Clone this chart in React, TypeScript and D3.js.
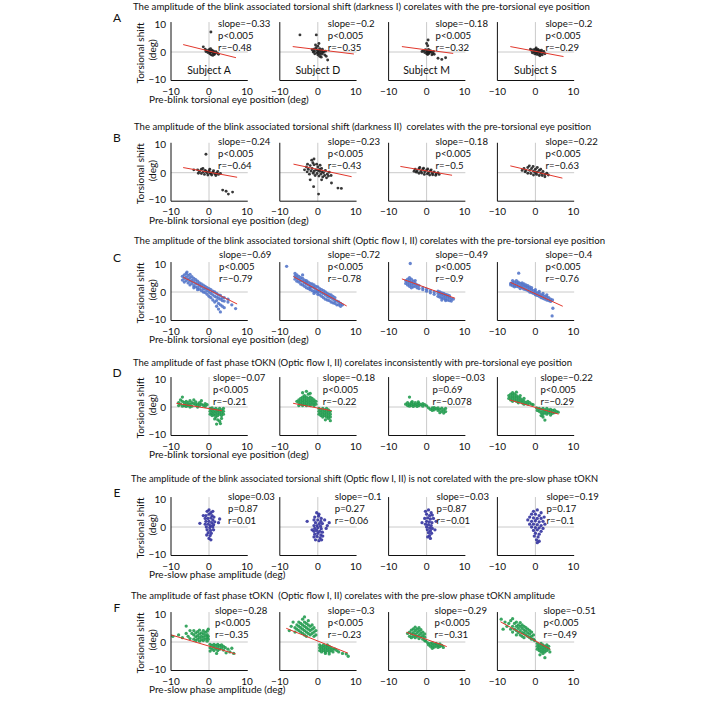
import React from 'react';
import * as d3 from 'd3';

const W = 723, H = 702;
const FONT = "Lato, 'Noto Sans', sans-serif";

const rowLetters = ['A', 'B', 'C', 'D', 'E', 'F'];
const rowTitles = [
  'The amplitude of the blink associated torsional shift (darkness I) corelates with the pre-torsional eye position',
  'The amplitude of the blink associated torsional shift (darkness II)  corelates with the pre-torsional eye position',
  'The amplitude of the blink associated torsional shift (Optic flow I, II) corelates with the pre-torsional eye position',
  'The amplitude of fast phase tOKN (Optic flow I, II) corelates inconsistently with pre-torsional eye position',
  'The amplitude of the blink associated torsional shift (Optic flow I, II) is not corelated with the pre-slow phase tOKN',
  'The amplitude of fast phase tOKN  (Optic flow I, II) corelates with the pre-slow phase tOKN amplitude',
];
const titleX = [133, 134, 134, 133, 131, 131];
const titleLen = [457, 457, 471, 439, 467, 424];
const titleY = [6, 126, 240, 362, 478, 595];
const rowZero = [52, 172.7, 292, 407, 527, 642];
const xAxisLabels = [
  'Pre-blink torsional eye position (deg)',
  'Pre-blink torsional eye position (deg)',
  'Pre-blink torsional eye position (deg)',
  'Pre-blink torsional eye position (deg)',
  'Pre-slow phase amplitude (deg)',
  'Pre-slow phase amplitude (deg)',
];
const subjectNames = ['Subject A', 'Subject D', 'Subject M', 'Subject S'];
const xTicks = [-10, 0, 10];
const yTicks = [-10, 0, 10];

const slopeVals = [
  ['−0.33', '−0.2', '−0.18', '−0.2'],
  ['−0.24', '−0.23', '−0.18', '−0.22'],
  ['−0.69', '−0.72', '−0.49', '−0.4'],
  ['−0.07', '−0.18', '−0.03', '−0.22'],
  ['0.03', '−0.1', '−0.03', '−0.19'],
  ['−0.28', '−0.3', '−0.29', '−0.51'],
];
const pVals = [
  ['p<0.005', 'p<0.005', 'p<0.005', 'p<0.005'],
  ['p<0.005', 'p<0.005', 'p<0.005', 'p<0.005'],
  ['p<0.005', 'p<0.005', 'p<0.005', 'p<0.005'],
  ['p<0.005', 'p<0.005', 'p=0.69', 'p<0.005'],
  ['p=0.87', 'p=0.27', 'p=0.87', 'p=0.17'],
  ['p<0.005', 'p<0.005', 'p<0.005', 'p<0.005'],
];
const rVals = [
  ['−0.48', '−0.35', '−0.32', '−0.29'],
  ['−0.64', '−0.43', '−0.5', '−0.63'],
  ['−0.79', '−0.78', '−0.9', '−0.76'],
  ['−0.21', '−0.22', '−0.078', '−0.29'],
  ['0.01', '−0.06', '−0.01', '−0.1'],
  ['−0.35', '−0.23', '−0.31', '−0.49'],
];
const rowColors = ['#1c1c1c', '#1c1c1c', '#5274c8', '#1f9a4c', '#2e2e9c', '#1f9a4c'];
const statDx = [
  [9, 10, 9, 10],
  [9, 10, 9, 10],
  [10, 10, 9, 10],
  [4, 5, 6, 5],
  [19, 17, 10, 11],
  [6, 10, 8, 8],
];
const statDy = [-29, -31, -37.5, -30, -31, -32];

// scatter points, flat [x, y, x, y, ...] in data units (deg)
const ptsA1 = [-0.5,0.5, 0,0.8, 0.5,0.2, 1,-0.3, 1.5,-0.5, 0.2,-0.6, 0.8,0.6, 1.2,0.3, -0.3,-0.2, 0.6,-1, 1.8,0.1, 2.2,-0.4, -1,1, -1.5,1.8, 0.4,1.2, 1,-1.2, 0.3,-0.1, 0.9,0, 1.4,-0.9, 0.5,7, -0.8,0.2, 2.5,-0.8, 0.1,0.3];
const ptsA2 = [-1,1, -0.5,1.5, 0,2, 0.5,1.2, 1,0.5, 1.5,0, -1.2,0, -0.8,-0.6, 0,-1, 0.5,-1.5, 1,-0.8, 1.8,-1, 0.2,0.4, 0.7,-0.2, -0.3,0.8, -0.2,-0.3, 1.2,1, 2,0.3, 0.4,-0.6, -1.5,0.8, 0.9,-1.8, -0.6,2.5, 0.3,3, -4.7,6, -0.4,6, 2.6,-2.8, 2.2,-1.5, 1.3,-0.2, 0,0, 0.6,0.6, -0.9,0.3];
const ptsA3 = [-0.8,0.5, -0.3,0.8, 0.2,0.3, 0.7,-0.2, 1.2,0, 1.6,-0.5, 0,-0.6, 0.5,0.9, -0.5,-0.2, 1,0.5, 0.3,-0.9, 1.4,-1, 0.8,0.2, 0.1,0, -1.2,0.2, 0.4,4.2, 0,3, 0.3,2.2, 3,-2.2, 4,-2.6, 5,-2, 2,-0.8, 0.6,-0.5, 1.8,0.2];
const ptsA4 = [-1,0.5, -0.5,0.8, 0,1, 0.5,0.6, 1,0.3, 1.5,0, 2,-0.3, 2.5,-0.6, -0.8,-0.3, -0.2,-0.6, 0.3,-0.8, 0.8,-1, 1.3,-0.7, 1.8,-1, 0,0.2, 0.6,0, 1.2,0.5, -0.4,0.1, 0.4,-0.2, 1,-0.3, 1.6,0.6, 2.2,0.2, -1.3,1, 0.2,1.4, 1.2,-1.3, 0.7,0.9];

const ptsB1 = [-3,1, -2.5,0.5, -2,1.2, -1.5,0.3, -1,0.8, -0.5,0, 0,0.5, 0.5,-0.2, 1,0.2, 1.5,-0.4, 2,-0.2, 2.5,-0.6, 3,-0.3, -2,-0.3, -1.2,-0.6, -0.3,-0.8, 0.7,-0.8, 1.8,-1, -1.6,1.5, 0.2,1.2, -2.8,-0.2, 1.2,0.7, 2.3,0.4, -0.8,0.4, -0.8,6.5, 3.6,-6.1, 5.1,-7.5, 6.2,-6.8, 4.5,-6.5, -4,1, 0.3,-0.2];
const ptsB2 = [-3,2, -2.5,1.2, -2,2.5, -1.5,1.5, -1,2.8, -0.5,1, 0,2, 0.5,0.5, 1,1.5, 1.5,0, 2,0.8, 2.5,-0.5, 3,0.2, -2.8,0.3, -2.2,-0.5, -1.8,0.6, -1.2,-0.2, -0.7,-1, -0.2,-0.3, 0.3,-1.2, 0.8,-0.5, 1.3,-1.5, 1.8,-1, 2.3,-1.8, -1.3,3.5, -0.3,3, 0.6,2.6, -3.5,1, -2.7,3, 1.1,0.3, 0,0.8, -1,0.5, 0.5,1.2, 2.8,-1.2, 3.5,-1, -1,4.8, -1.6,4.4, -1.1,-4.9, 0.2,-7.5, 3.6,-3.6, 5.3,-5.4, 6.2,-5.5, -2,-2.5, 1,-2.5];
const ptsB3 = [-3,1.2, -2.5,0.6, -2,1.4, -1.5,0.5, -1,1.2, -0.5,0.3, 0,0.9, 0.5,0, 1,0.6, 1.5,-0.2, 2,0.3, 2.5,-0.4, 3,0, -2.7,0.2, -2,-0.2, -1.3,-0.1, -0.6,-0.6, 0.2,-0.4, 0.8,-0.8, 1.6,-0.7, 2.4,-0.9, -1.8,1.8, -0.8,1.6, 0.3,1.3, 1.2,1, 3.3,-0.6, -3.3,0.5];
const ptsB4 = [-3,1.5, -2.5,0.8, -2,1.8, -1.5,0.8, -1,1.5, -0.5,0.5, 0,1.2, 0.5,0.2, 1,0.8, 1.5,-0.2, 2,0.4, 2.5,-0.6, 3,-0.2, -2.7,0.3, -2,-0.2, -1.2,-0.3, -0.5,-0.8, 0.3,-0.6, 1,-1, 1.8,-1, 2.5,-1.4, -1.6,2.4, -0.6,2.2, 0.5,1.8, 1.4,1.2, 3.4,-0.8, -3.5,0.8, 0,0];

const ptsC1 = [-7,5.5, -7,4.2, -6.5,6, -6.5,4.8, -6.5,3.5, -6,5.2, -6,4, -6,6.5, -5.5,4.5, -5.5,3.2, -5.5,5.8, -5,5, -5,3.8, -5,2.5, -5,6.2, -4.5,4.2, -4.5,3, -4.5,5.4, -4,3.6, -4,2.2, -4,4.8, -4,1.5, -3.5,3, -3.5,4.3, -3.5,1.8, -3,2.8, -3,1.5, -3,3.8, -3,0.8, -2.5,2.2, -2.5,3.2, -2.5,1, -2,1.8, -2,0.5, -2,2.8, -1.5,1.2, -1.5,2.4, -1.5,0, -1,1, -1,-0.2, -1,2, -0.5,0.5, -0.5,1.5, -0.5,-0.8, 0,0, 0,1.2, 0,-1.5, 0.5,-0.5, 0.5,0.8, 0.5,-2, 1,-1, 1,-2.8, 1,0.3, 1.5,-1.5, 1.5,-3.5, 1.5,0, 2,-1.8, 2,-3, 2,-5, 2,-0.5, 2.5,-2.2, 2.5,-4, 2.5,-6, 2.5,-1, 3,-2.5, 3,-4.5, 3,-1.2, 3,-7, 3.5,-3, 3.5,-5, 3.5,-2, 4,-3.2, 4,-5.5, 4,-2, 5,-3.5, 5,-2.5, 6,-4.5, 7,-5.8, -5.8,7];
const ptsC2 = [-6,5.5, -6,4.5, -6,6.5, -5.5,5, -5.5,3.8, -5.5,6, -5,4.5, -5,3.5, -5,5.5, -4.5,4, -4.5,5, -4.5,2.8, -4,3.8, -4,2.5, -4,4.8, -4,6, -3.5,3.2, -3.5,2, -3.5,4.2, -3,2.8, -3,1.5, -3,4, -3,3.5, -2.5,2.5, -2.5,1.2, -2.5,3.5, -2,2, -2,0.8, -2,3, -2,1.5, -1.5,1.8, -1.5,0.5, -1.5,2.8, -1,1.5, -1,0.2, -1,2.5, -1,-0.5, -0.5,1, -0.5,0, -0.5,2, 0,0.5, 0,-0.8, 0,1.8, 0,0, 0.5,0.2, 0.5,-1, 0.5,1.2, 1,-0.3, 1,-1.5, 1,0.8, 1.5,-0.6, 1.5,-2, 1.5,0.5, 2,-1, 2,-2.5, 2,0, 2.5,-1.5, 2.5,-2.8, 2.5,-0.5, 3,-1.8, 3,-3, 3,-0.8, 3.5,-2, 3.5,-3.5, 3.5,-1, 4,-2.5, 4,-3.8, 4,-1.5, 4.5,-3, 4.5,-4, 4.5,-2, 5,-3.2, 5,-4.5, 5.5,-3.5, 5.5,-4.5, 6,-4, 6,-5, 6.5,-4.5, -8.2,9];
const ptsC3 = [-5.5,4, -5.5,3, -5,4.5, -5,3.5, -5,2.5, -4.5,4, -4.5,3, -4.5,2, -4.5,5, -4,3.5, -4,2.5, -4,4.5, -4,1.5, -3.5,3.8, -3.5,2.8, -3.5,1.8, -3,3, -3,2, -3,4, -2.5,2.5, -2.5,1.5, -2,2.2, -2,1.2, -1,1.5, -1,0.8, 0,1, 0,0.3, 1,0.5, 1,-0.3, 2,0, 2,-0.8, 3,-0.5, 3,-1.5, 3,0.3, 3.5,-0.8, 3.5,-1.8, 3.5,0, 4,-1, 4,-2, 4,-0.3, 4,-2.8, 4.5,-1.2, 4.5,-2.2, 4.5,-0.5, 5,-1.5, 5,-2.5, 5,-0.8, 5,-3, 5.5,-1.8, 5.5,-2.8, 5.5,-1, 6,-2, 6,-3, 6,-1.3, 6.5,-2.3, 6.5,-3.2, 7,-2.5, -4.3,10];
const ptsC4 = [-6.5,3, -6.5,2.5, -6,3.2, -6,2.2, -6,4, -5.5,3.5, -5.5,2.5, -5.5,1.8, -5,3, -5,2, -5,4, -4.5,2.8, -4.5,1.8, -4.5,3.5, -4,3, -4,2, -4,1.2, -3.5,2.5, -3.5,1.5, -3.5,3.2, -3,2, -3,1, -3,2.8, -2.5,1.8, -2.5,0.8, -2.5,2.5, -2,1.5, -2,0.5, -2,2.2, -1.5,1, -1.5,0, -1.5,1.8, -1,0.8, -1,-0.2, -1,1.5, -0.5,0.5, -0.5,-0.5, 0,0, 0,-1, 0,0.8, 0.5,-0.3, 0.5,-1.2, 1,-0.5, 1,-1.5, 1,0.2, 1.5,-1, 1.5,-2, 2,-1.2, 2,-2.2, 2,-0.5, 2.5,-1.5, 2.5,-2.5, 3,-1.8, 3,-2.8, 3,-1, 3.5,-2, 3.5,-3, 4,-2.5, 4,-3.3, 4.5,-2.8, 4.6,-5.7, 4.4,-8.4, -4.4,6.6];

const ptsD1 = [-8,1.5, -8,0.5, -7.5,2.5, -7.5,1, -7,2, -7,0.3, -7,3.5, -6.5,1.5, -6.5,0.5, -6,2, -6,1, -6,0.2, -5.5,1.5, -5.5,0.5, -5,2.2, -5,1, -5,0, -4.5,1.5, -4.5,0.3, -4,1.2, -4,2.5, -3.5,0.8, -3.5,1.8, -3,1, -3,0, -2.5,1.5, -2.5,0.5, -2,1, -2,2.2, -1.5,0.6, -1,1.2, -1,0.2, -0.5,0.8, 0.3,-0.5, 0.3,-1.5, 0.3,-2.5, 0.8,-0.3, 0.8,-1.2, 0.8,-2.2, 0.8,-3, 1.3,-0.8, 1.3,-1.8, 1.3,-2.8, 1.8,-0.5, 1.8,-1.5, 1.8,-2.5, 1.8,-3.5, 2.3,-1, 2.3,-2, 2.3,-3, 2.3,-4.5, 2.8,-0.5, 2.8,-1.5, 2.8,-2.5, 2.8,-5, 3.3,-1, 3.3,-2, 3.3,-3, 3.3,-4, 3.8,-0.5, 3.8,-1.5, 3.8,-2.5, 2,-6, 3,-5.8, 1.5,-4.2];
const ptsD2 = [-5,0.5, -5,1.5, -5,2.5, -4.5,1, -4.5,2, -4.5,3, -4,0.5, -4,1.5, -4,2.5, -4,3.5, -3.5,1, -3.5,2, -3.5,3, -3.5,4, -3,0.5, -3,1.5, -3,2.5, -3,3.5, -2.5,1, -2.5,2, -2.5,3, -2.5,4.5, -2,0.5, -2,1.5, -2,2.5, -2,3.5, -1.5,1, -1.5,2, -1.5,3, -1,0.5, -1,1.5, -1,2.5, -0.5,1, -0.5,2, -4,5, -3,5.5, -2,4.8, -5.5,2, 0.3,-0.5, 0.3,-1.5, 0.3,-2.5, 0.8,-1, 0.8,-2, 0.8,-3, 1.3,-0.5, 1.3,-1.5, 1.3,-2.5, 1.3,-3.5, 1.8,-1, 1.8,-2, 1.8,-3, 2.3,-0.5, 2.3,-1.5, 2.3,-2.5, 2.3,-3.5, 2.8,-1, 2.8,-2, 2.8,-3, 2.8,-4, 3.3,-1.5, 3.3,-2.5, 3.3,-3.5, 3.3,-4.8, 2,-4.5];
const ptsD3 = [-5.5,1, -5,0.5, -5,1.5, -4.5,1, -4.5,0.3, -4,1.5, -4,0.6, -3.5,1, -3.5,0.2, -3,1.5, -3,0.6, -2.5,1, -2.5,0.2, -2,1.3, -2,0.5, -1.5,0.8, -1,1.2, -1,0.3, -0.5,0.8, 0,0.4, -4.5,3.5, -3.8,1.9, -2.2,1.8, 0.5,-0.3, 1,-0.8, 1.5,-0.3, 2,-1, 2,-0.2, 2.5,-0.6, 3,-1.2, 3,-0.3, 3.5,-0.8, 4,-1.5, 4,-0.4, 4.5,-1, 5,-0.5, 5,-1.6, 3.5,-2, 4.5,-2.1, 1.5,-1.2];
const ptsD4 = [-7,3, -7,4, -6.5,2.5, -6.5,3.5, -6.5,4.5, -6,2, -6,3, -6,4, -6,5, -5.5,2.5, -5.5,3.5, -5.5,4.5, -5,2, -5,3, -5,4, -5,5.2, -4.5,1.5, -4.5,2.5, -4.5,3.5, -4,2, -4,3, -4,4, -3.5,1.5, -3.5,2.5, -3,1, -3,2, -3,3, -2.5,1.5, -2,1, -2,2, -1.5,1.5, -1,1, -0.6,0.8, 0.3,-0.3, 0.5,-1.2, 1,-0.5, 1,-1.5, 1.5,-0.8, 1.5,-2, 2,-0.5, 2,-1.5, 2,-2.5, 2.5,-1, 2.5,-2, 3,-0.5, 3,-1.5, 3,-2.5, 3.5,-1, 3.5,-2, 4,-0.8, 4,-1.8, 4,-2.8, 4.5,-1.2, 4.5,-2.2, 5,-1, 5,-2, 5.5,-1.5, 6,-1.8, 2,-3.5, 2.5,-4.6, 1.5,-3];

const ptsE1 = [-0.5,5.5, 0,6, 0.5,5, 1,5.5, -0.8,4, 0,4.5, 0.8,4, 1.3,3.5, -1,3, -0.3,3, 0.5,3.2, 1,2.5, -0.8,2, 0,2, 0.7,1.5, 1.5,1.8, -1,1, -0.2,1, 0.4,0.5, 1.2,0.8, -0.7,0, 0.2,-0.2, 1,0, -0.5,-1, 0.4,-1.2, 1.2,-1, -0.2,-2, 0.6,-2.2, -0.6,-2.8, 0.3,-3, 0,-4, 0.5,-4.5, -2.4,1.3, 2.5,1.5, 2.8,2.8, -1.5,4];
const ptsE2 = [-0.3,5, 0.3,4.5, -0.8,3.5, 0.2,3.8, 0.9,3, -1,2.5, 0,2.5, 0.8,2, -0.6,1.5, 0.4,1.2, 1.2,1.2, -1,0.5, -0.2,0.5, 0.7,0.3, -0.8,-0.5, 0,-0.3, 0.9,-0.6, -1,-1.5, -0.3,-1.2, 0.5,-1.5, 1.2,-1.8, -0.8,-2.5, 0,-2.2, 0.8,-2.8, -1,-3.5, -0.2,-3.3, 0.6,-3.8, 1.3,-3.2, -0.6,-4.5, 0.3,-4.8, 1,-4.5, -2.8,2, 3,1.5, 2.2,-0.5, 1.8,2.5, 2.5,0.5, -1.5,-1];
const ptsE3 = [-0.3,5.5, 0.5,6, 1.2,5, 0,4.5, 0.8,4, 1.5,4.2, -0.5,3, 0.3,3.2, 1,2.8, 1.8,3, 0,2, 0.7,1.8, 1.4,1.5, -0.3,1, 0.5,0.8, 1.2,0.5, 0,0, 0.8,-0.3, 1.5,-0.5, 0.2,-1, 1,-1.3, 0.5,-2, 1.3,-2.2, 0.8,-3, 0.3,-3.5, 1,-4, 2.5,2, -1.2,1.5, 2.2,-1];
const ptsE4 = [-0.5,5.5, 0.5,6, 1.5,5, -1,4.5, 0,4.5, 1,4, -1.5,3.5, -0.5,3.2, 0.5,3, 1.5,3, -1,2, 0,2.2, 1,1.8, 2,2, -1.5,1, -0.5,1, 0.5,0.8, 1.5,0.5, -1,0, 0,-0.2, 1,-0.3, 2,-0.5, -0.5,-1.2, 0.5,-1, 1.5,-1.5, 0,-2.2, 1,-2.5, -0.3,-3.2, 0.7,-3.5, 0.3,-4.5, 1,-5, 0.5,-5.5, -2,2.5, 2.5,1, 2.3,3.5];

const ptsF1 = [-4,1, -4,2.5, -4,4, -3.5,0.5, -3.5,1.8, -3.5,3.2, -3,1, -3,2.2, -3,3.6, -2.5,0.3, -2.5,1.5, -2.5,2.8, -2.5,4.2, -2,0.8, -2,2, -2,3.2, -1.5,0.5, -1.5,1.6, -1.5,2.8, -1.5,4, -1,1, -1,2.2, -1,3.4, -0.5,0.3, -0.5,1.5, -0.5,2.6, -0.5,3.8, -0.2,1, -0.2,2, -0.2,4.5, -9.5,2, -8,2.5, -7,1.5, -6,5.6, -6,3, -5.5,2, -5,4, -5,1.2, -4.5,3, 0.3,-0.8, 0.3,-2, 0.3,-3.2, 0.8,-1.2, 0.8,-2.5, 1.3,-0.8, 1.3,-1.8, 1.3,-3, 1.8,-1.2, 1.8,-2.4, 2.3,-0.8, 2.3,-1.8, 2.3,-3, 2.8,-1.3, 2.8,-2.5, 3.3,-1, 3.3,-2, 3.8,-1.5, 3.8,-2.8, 4.3,-2, 5,-2.5, 5.5,-3.5, 6.5,-4, 4.5,-3.8, 2,-4, 6,-2.2];
const ptsF2 = [-6,5, -6,3.5, -5.5,6, -5.5,4.5, -5,7, -5,5.5, -5,4, -4.5,6.5, -4.5,5, -4.5,3.5, -4,8, -4,6, -4,4.5, -4,3, -3.5,7, -3.5,5.5, -3.5,4, -3.5,2.5, -3,6.5, -3,5, -3,3.5, -3,2, -2.5,7.5, -2.5,6, -2.5,4.5, -2.5,3, -2,5.5, -2,4, -2,2.5, -1.5,6, -1.5,4.5, -1.5,3, -1,5, -1,3.5, -1,2, -0.5,4, -0.5,2.5, -3.5,8.8, -7,5.5, -7.5,4, -6.5,7, 0.5,-1, 0.5,-2, 0.5,-3, 1,-1.5, 1,-2.5, 1,-3.5, 1.5,-1, 1.5,-2, 1.5,-3, 2,-1.5, 2,-2.5, 2,-3.5, 2.5,-1, 2.5,-2, 2.5,-3, 3,-1.5, 3,-2.5, 3,-3.5, 3.5,-2, 3.5,-3, 4,-2.5, 4,-3.5, 4.5,-2.5, 5,-3, 5.5,-3.5, 6.5,-4, 7.5,-4.2, 8,-5, 3,-4.2, 2,-4];
const ptsF3 = [-5,3, -4.5,2, -4.5,3.5, -4,1.5, -4,2.8, -4,4.2, -3.5,2, -3.5,3.3, -3.5,4.6, -3,1.5, -3,2.7, -3,4, -3,5.2, -2.5,2, -2.5,3.3, -2.5,4.5, -2,1.2, -2,2.5, -2,3.8, -2,5, -1.5,1.8, -1.5,3, -1.5,4.3, -1,1, -1,2.2, -1,3.5, -0.5,0.5, -0.5,1.7, -0.5,2.8, -0.2,0.3, 0.3,-0.3, 0.5,-1, 1,-0.5, 1,-1.5, 1.5,-0.3, 1.5,-1.2, 2,-0.8, 2,-1.8, 2.5,-0.5, 2.5,-1.4, 3,-1, 3,-1.9, 3.5,-0.7, 3.5,-1.6, 4,-1.2, 4.4,-1.9, 1.5,-2.2];
const ptsF4 = [-9,8, -8,7, -7.5,5.5, -7,6.5, -6.5,4.5, -6.5,7.5, -6,5.5, -6,3.5, -5.5,6.5, -5.5,4.5, -5,7, -5,5.5, -5,4, -5,2.5, -4.5,6, -4.5,4.8, -4.5,3.3, -4,6.8, -4,5.5, -4,4, -4,2.5, -3.5,6, -3.5,4.8, -3.5,3.3, -3.5,2, -3,5.5, -3,4.2, -3,3, -3,1.5, -2.5,5, -2.5,3.8, -2.5,2.5, -2,4.5, -2,3.2, -2,2, -1.5,4, -1.5,2.8, -1.5,1.5, -1,3.5, -1,2, -1,1, -0.5,2.5, -0.5,1, -0.2,0.5, -8.5,4.5, -6,8.2, 0.5,-0.5, 0.5,-1.5, 0.5,-2.5, 1,-1, 1,-2, 1,-3, 1.5,-0.5, 1.5,-1.5, 1.5,-2.5, 1.5,-3.5, 2,-1, 2,-2, 2,-3, 2,-4, 2.5,-1.5, 2.5,-2.5, 2.5,-3.5, 3,-1, 3,-2, 3,-3, 3.5,-1.5, 3.5,-2.5, 3.8,-3.5, 2.5,-5.5, 1.2,-4.5];

const panelPoints = [
  [ptsA1, ptsA2, ptsA3, ptsA4],
  [ptsB1, ptsB2, ptsB3, ptsB4],
  [ptsC1, ptsC2, ptsC3, ptsC4],
  [ptsD1, ptsD2, ptsD3, ptsD4],
  [ptsE1, ptsE2, ptsE3, ptsE4],
  [ptsF1, ptsF2, ptsF3, ptsF4],
];

// regression line end points [x1, y1, x2, y2] (deg); null = not visible
const fitLines = [
  [[-6.8, 2.6, 7.1, -2.0], [-6.6, 1.9, 9.5, -0.7], [-6.5, 1.9, 7.0, -0.5], [-6.6, 1.9, 7.4, -1.6]],
  [[-6.8, 1.8, 7.4, -1.6], [-6.4, 3.0, 8.9, -1.4], [-6.9, 2.2, 6.7, -0.9], [-6.6, 2.4, 7.1, -1.9]],
  [[-6.8, 5.2, 7.4, -4.2], [-6.4, 5.4, 7.6, -4.9], [-6.5, 4.6, 7.5, -2.2], [-6.6, 3.4, 7.2, -5.0]],
  [[-8.6, 1.3, 3.4, -1.3], [-6.5, 1.3, 3.6, -1.3], null, [-6.8, 2.5, 6.1, -2.5]],
  [null, null, null, null],
  [[-10, 2.5, 7, -4.2], [-8.3, 4.8, 7.9, -3.9], [-5.3, 3.4, 5.3, -1.6], [-9.2, 7.1, 3.9, -2.5]],
];

const COL0 = 171;
const COL_STEP = 108.8;
const PANEL_W = 76;
const HALF_H = 28.5;

function pairs(flat: number[]): [number, number][] {
  const out: [number, number][] = [];
  for (let i = 0; i + 1 < flat.length; i += 2) out.push([flat[i], flat[i + 1]]);
  return out;
}

function Panel({ row, col }: { row: number; col: number }) {
  const left = COL0 + COL_STEP * col;
  const y0 = rowZero[row];
  const x = d3.scaleLinear().domain([-10, 10]).range([left, left + PANEL_W]);
  const y = d3.scaleLinear().domain([-10, 10]).range([y0 + HALF_H, y0 - HALF_H]);
  const pts = pairs(panelPoints[row][col]);
  const fit = fitLines[row][col];
  const color = rowColors[row];
  const tx = x(0) + statDx[row][col];
  const ty = y0 + statDy[row];
  const fs = 9.6;
  const r = row < 2 ? 1.45 : 1.65;
  return (
    <g>
      <line x1={x(-10)} x2={x(10.2)} y1={y(0)} y2={y(0)} stroke="#cacaca" strokeWidth={1} />
      <line x1={x(0)} x2={x(0)} y1={y(-10)} y2={y(10.5)} stroke="#cacaca" strokeWidth={1} />
      {pts.map((p, i) => (
        <circle key={i} cx={x(p[0])} cy={y(p[1])} r={r} fill={color} fillOpacity={0.88} />
      ))}
      {fit && (
        <line x1={x(fit[0])} y1={y(fit[1])} x2={x(fit[2])} y2={y(fit[3])} stroke="#e2372c" strokeWidth={1} />
      )}
      <line x1={x(-10)} x2={x(-10)} y1={y(-10)} y2={y(10.5)} stroke="#111" strokeWidth={1} />
      <line x1={x(-10)} x2={x(10.2)} y1={y(-10)} y2={y(-10)} stroke="#111" strokeWidth={1} />
      {xTicks.map(t => (
        <text key={t} x={x(t)} y={y0 + 38.5} textAnchor="middle" dominantBaseline="central" fontSize={10} fill="#111">
          {t < 0 ? '−' + Math.abs(t) : String(t)}
        </text>
      ))}
      {col === 0 && yTicks.map(t => (
        <text key={t} x={left - 5} y={y(t) - (t < 0 ? 2 : 0)} textAnchor="end" dominantBaseline="central" fontSize={10} fill="#111">
          {t < 0 ? '−' + Math.abs(t) : String(t)}
        </text>
      ))}
      <text x={tx} y={ty} dominantBaseline="central" fontSize={fs} fill="#111">{'slope=' + slopeVals[row][col]}</text>
      <text x={tx} y={ty + 12} dominantBaseline="central" fontSize={fs} fill="#111">{pVals[row][col]}</text>
      <text x={tx} y={ty + 24} dominantBaseline="central" fontSize={fs} fill="#111">{'r=' + rVals[row][col]}</text>
      {row === 0 && (
        <text x={x(0)} y={y0 + 18} textAnchor="middle" dominantBaseline="central" fontSize={10.5} fill="#111">
          {subjectNames[col]}
        </text>
      )}
    </g>
  );
}

export default function App() {
  return (
    <svg width={W} height={H} style={{ position: 'absolute', left: 0, top: 0, display: 'block', background: '#fff' }}
      fontFamily={FONT}>
      <rect x={0} y={0} width={W} height={H} fill="#fff" />
      {rowTitles.map((t, r) => (
        <g key={r}>
          <text x={titleX[r]} y={titleY[r]} dominantBaseline="central" fontSize={9.6} fill="#111"
            textLength={titleLen[r]} lengthAdjust="spacingAndGlyphs" style={{ whiteSpace: 'pre' }}>{t}</text>
          <text x={117} y={rowZero[r] - 35} textAnchor="middle" dominantBaseline="central" fontSize={12} fill="#111">
            {rowLetters[r]}</text>
          <text transform={`translate(140,${rowZero[r] + 1}) rotate(-90)`} textAnchor="middle" dominantBaseline="central"
            fontSize={10} fill="#111">Torsional shift</text>
          <text transform={`translate(152,${rowZero[r] - 2}) rotate(-90)`} textAnchor="middle" dominantBaseline="central"
            fontSize={10} fill="#111">(deg)</text>
          <text x={149} y={rowZero[r] + 47} dominantBaseline="central" fontSize={10} fill="#111">{xAxisLabels[r]}</text>
          {[0, 1, 2, 3].map(c => <Panel key={c} row={r} col={c} />)}
        </g>
      ))}
    </svg>
  );
}
